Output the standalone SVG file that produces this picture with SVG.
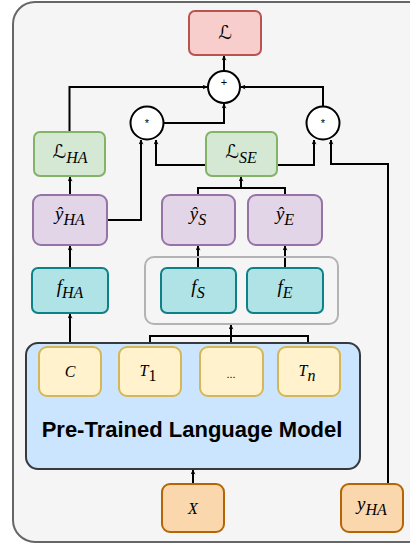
<svg xmlns="http://www.w3.org/2000/svg" width="410" height="544" viewBox="0 0 410 544">
<style>
.n{stroke-width:2}
.red{fill:#f8cecc;stroke:#b85450}
.grn{fill:#d5e8d4;stroke:#82b366}
.pur{fill:#e1d5e7;stroke:#9673a6}
.tea{fill:#b0e3e6;stroke:#0e8088}
.yel{fill:#fff2cc;stroke:#d6b656}
.org{fill:#fad7ac;stroke:#b46504}
.m{font-family:"Liberation Serif","DejaVu Serif",serif;font-style:italic;font-size:19px;fill:#000;text-anchor:middle}
.cal{font-family:"DejaVu Sans",sans-serif;font-style:normal}
.s{font-size:16px}
.op{font-family:"Liberation Sans",Arial,sans-serif;font-size:11px;text-anchor:middle;fill:#000}
.c{fill:none;stroke:#000;stroke-width:2;marker-end:url(#a)}
.l{fill:none;stroke:#000;stroke-width:2}
</style>
<defs>
<marker id="a" viewBox="0 0 10 10" refX="9" refY="5" markerWidth="5" markerHeight="5" orient="auto" markerUnits="userSpaceOnUse">
<path d="M0,0 L10,5 L0,10 L3,5 z" fill="#000"/>
</marker>
</defs>
<rect x="13" y="2" width="425" height="540" rx="22" fill="#f5f5f5" stroke="#666666" stroke-width="2"/>
<g id="connectors">
<path class="c" d="M224,71 V56"/>
<path class="c" d="M69.5,132 V87 H207"/>
<path class="c" d="M164,123 H224 V104"/>
<path class="c" d="M323,106 V87 H241"/>
<path class="c" d="M205,165 H156 V140"/>
<path class="c" d="M107,220 H141 V140"/>
<path class="c" d="M277,165 H314 V140"/>
<path class="c" d="M388,484 V164 H331 V140"/>
<path class="c" d="M70,195 V177"/>
<path class="c" d="M70,268 V246"/>
<path class="c" d="M70,347 V314"/>
<path class="l" d="M198,195 V188 H285 V195"/>
<path class="c" d="M241,188 V177"/>
<path class="c" d="M198,268 V246"/>
<path class="c" d="M285,268 V246"/>
<path class="l" d="M150,347 V336 H308 V347"/>
<path class="c" d="M231,347 V325"/>
<path class="c" d="M193,484 V470"/>
</g>
<g id="L"><rect class="n red" x="189" y="11" width="72" height="44" rx="6"/><text class="m" x="225" y="39"><tspan class="cal">ℒ</tspan></text></g>
<g id="plus"><circle class="n" cx="224" cy="87" r="16" fill="#fff" stroke="#000"/><text class="op" x="224" y="86">+</text></g>
<g id="star1"><circle class="n" cx="147" cy="123" r="16.5" fill="#fff" stroke="#000"/><text class="op" x="147" y="127">*</text></g>
<g id="star2"><circle class="n" cx="323" cy="123" r="16.5" fill="#fff" stroke="#000"/><text class="op" x="323" y="127">*</text></g>
<g id="LHA"><rect class="n grn" x="34" y="132" width="71" height="44" rx="6"/><text class="m" x="70" y="158"><tspan class="cal">ℒ</tspan><tspan class="s" dy="5">HA</tspan></text></g>
<g id="LSE"><rect class="n grn" x="206" y="132" width="71" height="44" rx="6"/><text class="m" x="241" y="158"><tspan class="cal">ℒ</tspan><tspan class="s" dy="5">SE</tspan></text></g>
<g id="yhatHA"><rect class="n pur" x="33" y="195" width="74" height="50" rx="8"/><text class="m" x="70" y="220">ŷ<tspan class="s" dy="5">HA</tspan></text></g>
<g id="yhatS"><rect class="n pur" x="162" y="195" width="73" height="50" rx="8"/><text class="m" x="198" y="220">ŷ<tspan class="s" dy="5">S</tspan></text></g>
<g id="yhatE"><rect class="n pur" x="248" y="195" width="74" height="50" rx="8"/><text class="m" x="285" y="220">ŷ<tspan class="s" dy="5">E</tspan></text></g>
<g id="group"><rect x="145" y="257" width="193" height="67" rx="9" fill="none" stroke="#b3b3b3" stroke-width="2"/></g>
<g id="fHA"><rect class="n tea" x="32" y="268" width="76" height="45" rx="6"/><text class="m" x="70" y="293">f<tspan class="s" dy="5">HA</tspan></text></g>
<g id="fS"><rect class="n tea" x="161" y="268" width="75" height="45" rx="6"/><text class="m" x="198" y="293">f<tspan class="s" dy="5">S</tspan></text></g>
<g id="fE"><rect class="n tea" x="247" y="268" width="76" height="45" rx="6"/><text class="m" x="285" y="293">f<tspan class="s" dy="5">E</tspan></text></g>
<g id="PLM"><rect x="26" y="343" width="334" height="126" rx="12" fill="#cce5ff" stroke="#36393d" stroke-width="2"/>
<text x="192" y="437" font-family="'Liberation Sans',Arial,sans-serif" font-weight="bold" font-size="22" text-anchor="middle" fill="#000">Pre-Trained Language Model</text></g>
<g id="C"><rect class="n yel" x="39" y="347" width="62" height="49" rx="8"/><text class="m" x="70" y="377" style="font-size:16px">C</text></g>
<g id="T1"><rect class="n yel" x="119" y="347" width="62" height="49" rx="8"/><text class="m" x="148" y="376" style="font-size:16px">T<tspan class="s" dy="5" style="font-style:normal">1</tspan></text></g>
<g id="dots"><rect class="n yel" x="200" y="347" width="63" height="49" rx="8"/><text x="231" y="378" font-family="'Liberation Sans',Arial,sans-serif" font-size="11" text-anchor="middle">...</text></g>
<g id="Tn"><rect class="n yel" x="278" y="347" width="62" height="49" rx="8"/><text class="m" x="307" y="376" style="font-size:16px">T<tspan class="s" dy="5">n</tspan></text></g>
<g id="X"><rect class="n org" x="162" y="484" width="62" height="48" rx="8"/><text class="m" x="193" y="514" style="font-size:16px">X</text></g>
<g id="yHA"><rect class="n org" x="341" y="484" width="62" height="48" rx="8"/><text class="m" x="372" y="510">y<tspan class="s" dy="5">HA</tspan></text></g>
</svg>
